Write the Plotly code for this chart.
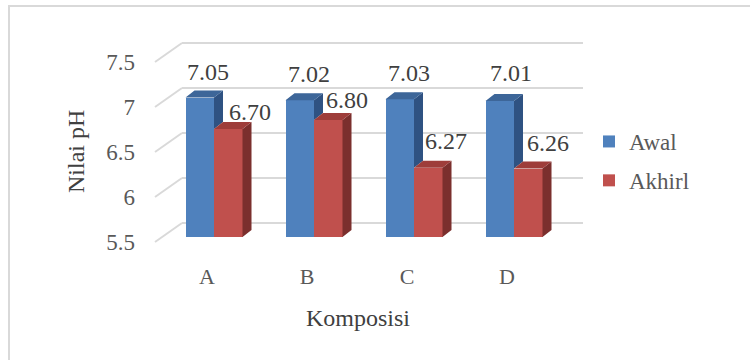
import plotly.graph_objects as go

# ---- data -------------------------------------------------------------
categories = ["A", "B", "C", "D"]
awal = [7.05, 7.02, 7.03, 7.01]
akhir = [6.70, 6.80, 6.27, 6.26]
series_names = ["Awal", "Akhirl"]
y_ticks = [5.5, 6, 6.5, 7, 7.5]
y_tick_text = ["5.5", "6", "6.5", "7", "7.5"]

# ---- geometry (pixel based, converted to data units) -------------------
FIG_W, FIG_H = 750, 360
M_L, M_R, M_T, M_B = 150, 150, 30, 110
PLOT_W = FIG_W - M_L - M_R
PLOT_H = FIG_H - M_T - M_B
PX_PER_CAT = 100.0          # horizontal pixels per category step
PX_PER_PH = 90.0            # vertical pixels per pH unit
BASE = 5.5                  # floor of the chart
X0_PX = 214                 # pixel x of first category centre (front plane)
FLOOR_PX = 237              # pixel y of the bar floor (front plane)

x_range = [(M_L - X0_PX) / PX_PER_CAT, (M_L + PLOT_W - X0_PX) / PX_PER_CAT]
y_range = [BASE - (M_T + PLOT_H - FLOOR_PX) / PX_PER_PH,
           BASE + (FLOOR_PX - M_T) / PX_PER_PH]


def dx(px):
    return px / PX_PER_CAT


def dv(px):
    return px / PX_PER_PH


BAR_W = 0.285
DEPTH_X, DEPTH_V = dx(9), dv(7)          # bar depth projection
BACK_X, BACK_V = dx(20), dv(14)          # bar plane -> back wall
FRONT_X, FRONT_V = dx(-7), dv(-5)        # bar plane -> front edge of floor
WALL_LEFT, WALL_RIGHT = dx(182 - X0_PX), dx(583 - X0_PX)

BLUE = "#4f81bd"
BLUE_TOP = "#3d6699"
BLUE_SIDE = "#2f5282"
RED = "#c0504d"
RED_TOP = "#9e3d3a"
RED_SIDE = "#7b2f2d"
GRID = "#d9d9d9"
FONT = "Liberation Serif, Times New Roman, serif"

pos = list(range(len(categories)))
x_awal = [p - BAR_W / 2 for p in pos]
x_akhir = [p + BAR_W / 2 for p in pos]

fig = go.Figure()

# front faces of the bars
fig.add_trace(go.Bar(
    x=x_awal, y=[v - BASE for v in awal], base=BASE, width=BAR_W,
    name=series_names[0], marker=dict(color=BLUE, line=dict(width=0)),
    customdata=awal, hovertemplate="%{customdata:.2f}<extra>Awal</extra>",
    legendgroup="a",
))
fig.add_trace(go.Bar(
    x=x_akhir, y=[v - BASE for v in akhir], base=BASE, width=BAR_W,
    name=series_names[1], marker=dict(color=RED, line=dict(width=0)),
    customdata=akhir, hovertemplate="%{customdata:.2f}<extra>Akhirl</extra>",
    legendgroup="b",
))


def polys(list_of_pts):
    xs, ys = [], []
    for pts in list_of_pts:
        for px_, py_ in pts:
            xs.append(px_)
            ys.append(py_)
        xs.append(pts[0][0])
        ys.append(pts[0][1])
        xs.append(None)
        ys.append(None)
    return xs, ys


def face(list_of_pts, color):
    xs, ys = polys(list_of_pts)
    fig.add_trace(go.Scatter(
        x=xs, y=ys, mode="lines", fill="toself", fillcolor=color,
        line=dict(width=0, color=color), hoverinfo="skip", showlegend=False,
    ))


# side and top faces; the blue side only shows above the red bar
blue_side, blue_top, red_side, red_top = [], [], [], []
for xc, vb, vr in zip(x_awal, awal, akhir):
    xr = xc + BAR_W / 2
    xl = xc - BAR_W / 2
    blue_side.append([(xr, vr), (xr + DEPTH_X, vr + DEPTH_V),
                      (xr + DEPTH_X, vb + DEPTH_V), (xr, vb)])
    blue_top.append([(xl, vb), (xl + DEPTH_X, vb + DEPTH_V),
                     (xr + DEPTH_X, vb + DEPTH_V), (xr, vb)])
for xc, vr in zip(x_akhir, akhir):
    xr = xc + BAR_W / 2
    xl = xc - BAR_W / 2
    red_side.append([(xr, BASE), (xr + DEPTH_X, BASE + DEPTH_V),
                     (xr + DEPTH_X, vr + DEPTH_V), (xr, vr)])
    red_top.append([(xl, vr), (xl + DEPTH_X, vr + DEPTH_V),
                    (xr + DEPTH_X, vr + DEPTH_V), (xr, vr)])

face(blue_side, BLUE_SIDE)
face(blue_top, BLUE_TOP)
face(red_side, RED_SIDE)
face(red_top, RED_TOP)

# back-wall gridlines and side-wall diagonals (behind the bars)
shapes = []
for t in y_ticks:
    shapes.append(dict(type="line", xref="x", yref="y", layer="below",
                       x0=WALL_LEFT, x1=WALL_RIGHT,
                       y0=t + BACK_V, y1=t + BACK_V,
                       line=dict(color=GRID, width=2)))
    shapes.append(dict(type="line", xref="x", yref="y", layer="below",
                       x0=WALL_LEFT - (BACK_X - FRONT_X), x1=WALL_LEFT,
                       y0=t + FRONT_V, y1=t + BACK_V,
                       line=dict(color=GRID, width=2)))


def paper_x(px):
    return (px - M_L) / PLOT_W


def paper_y(py):
    return (M_T + PLOT_H - py) / PLOT_H


# outer chart border
shapes.append(dict(type="rect", xref="paper", yref="paper", layer="below",
                   x0=paper_x(9), x1=paper_x(FIG_W + 20),
                   y0=paper_y(FIG_H + 20), y1=paper_y(6),
                   line=dict(color=GRID, width=2)))

# data labels
annotations = []
blue_shift = [(8, 26), (9, 26), (9, 26), (11, 28)]
red_shift = [(22, 17), (19, 20), (18, 27), (20, 26)]
for xc, v, (sx, sy) in zip(x_awal, awal, blue_shift):
    annotations.append(dict(x=xc, y=v, xref="x", yref="y", text=f"{v:.2f}",
                            showarrow=False, xshift=sx, yshift=sy,
                            xanchor="center", yanchor="middle",
                            font=dict(family=FONT, size=24, color="#404040")))
for xc, v, (sx, sy) in zip(x_akhir, akhir, red_shift):
    annotations.append(dict(x=xc, y=v, xref="x", yref="y", text=f"{v:.2f}",
                            showarrow=False, xshift=sx, yshift=sy,
                            xanchor="center", yanchor="middle",
                            font=dict(family=FONT, size=24, color="#404040")))

# axis titles
annotations.append(dict(x=paper_x(76), y=paper_y(152), xref="paper", yref="paper",
                        text="Nilai pH", textangle=-90, showarrow=False,
                        xanchor="center", yanchor="middle",
                        font=dict(family=FONT, size=24, color="#404040")))
annotations.append(dict(x=paper_x(358), y=paper_y(318), xref="paper", yref="paper",
                        text="Komposisi", showarrow=False,
                        xanchor="center", yanchor="middle",
                        font=dict(family=FONT, size=24, color="#404040")))

fig.update_layout(
    width=FIG_W, height=FIG_H, autosize=False,
    margin=dict(l=M_L, r=M_R, t=M_T, b=M_B),
    paper_bgcolor="white", plot_bgcolor="white",
    barmode="overlay", bargap=0,
    shapes=shapes, annotations=annotations,
    xaxis=dict(range=x_range, showgrid=False, zeroline=False, showline=False,
               tickvals=[p + FRONT_X for p in pos], ticktext=categories,
               ticks="", ticklabelstandoff=11,
               tickfont=dict(family=FONT, size=22, color="#595959")),
    yaxis=dict(range=y_range, showgrid=False, zeroline=False, showline=False,
               tickvals=[t + FRONT_V for t in y_ticks], ticktext=y_tick_text,
               ticks="", ticklabelstandoff=14,
               tickfont=dict(family=FONT, size=23, color="#595959")),
    legend=dict(x=paper_x(589), y=paper_y(120), xanchor="left", yanchor="top",
                font=dict(family=FONT, size=23, color="#595959"),
                tracegroupgap=6, bgcolor="rgba(0,0,0,0)"),
    showlegend=True,
)

fig.write_html("out.html")
